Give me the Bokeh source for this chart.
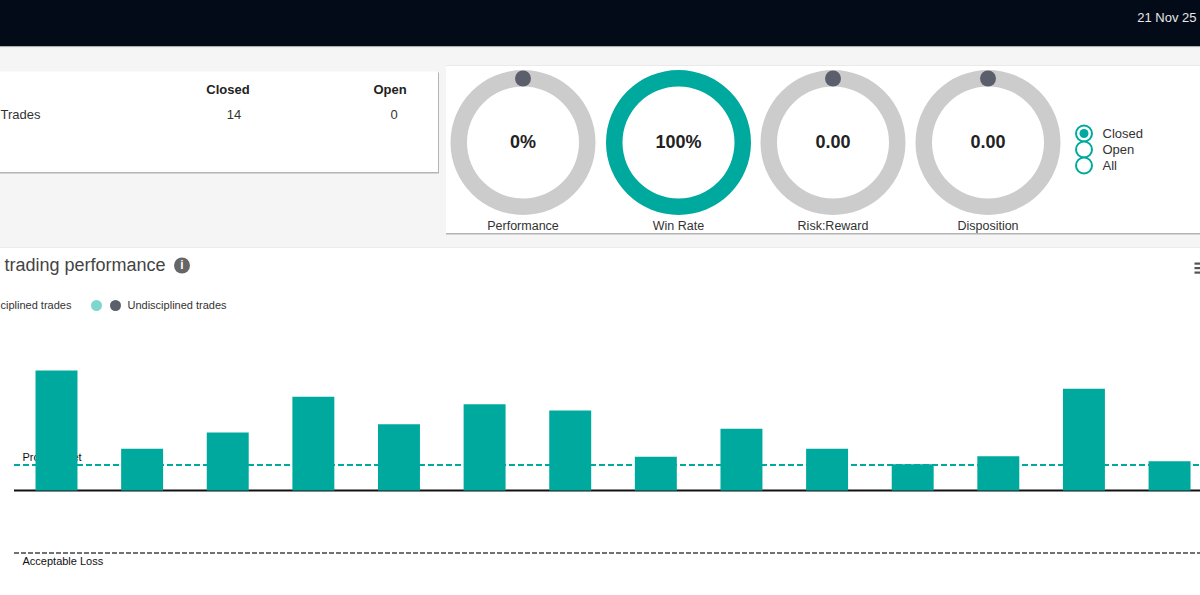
from bokeh.plotting import figure
from bokeh.models import Range1d
from bokeh.core.properties import value
from bokeh.embed import file_html
from bokeh.resources import INLINE

# ---- data ----
trades = list(range(14))
trade_values = [1.92, 0.67, 0.93, 1.50, 1.06, 1.38, 1.28, 0.54, 0.99, 0.67, 0.42, 0.55, 1.63, 0.47]
profit_target = 0.41
acceptable_loss = -1.0
gauge_labels = ["Performance", "Win Rate", "Risk:Reward", "Disposition"]
gauge_texts = ["0%", "100%", "0.00", "0.00"]
gauge_fill = [0, 100, 0, 0]
table_columns = ["Closed", "Open"]
table_counts = ["14", "0"]
radio_labels = ["Closed", "Open", "All"]
date_text = "21 Nov 25"
title_text = "trading performance"

TEAL = "#00a99d"
GREY = "#cccccc"
DOT = "#5a5f6b"
FONT = "Liberation Sans"

W, H = 1200, 595
p = figure(width=W + 1, height=H + 1, output_backend="svg", toolbar_location=None,
           x_range=Range1d(-1, W), y_range=Range1d(H, -1),
           x_axis_type=None, y_axis_type=None, min_border=0,
           outline_line_color=None, background_fill_color="white", border_fill_color="white",
           styles={"position": "absolute", "left": "-1px", "top": "-1px"})
p.grid.visible = False

# chart scales: bars are placed by trade number and value
PX0, PXSTEP = 56.0, 85.62
PY0, PYUNIT = 490.0, 62.5
p.extra_x_ranges["trade"] = Range1d((-1 - PX0) / PXSTEP, (W - PX0) / PXSTEP)
p.extra_y_ranges["pnl"] = Range1d((PY0 - H) / PYUNIT, (PY0 + 1) / PYUNIT)


def box(x0, x1, y0, y1, color):
    p.quad(left=[x0], right=[x1], top=[y0], bottom=[y1], fill_color=color, line_color=None)


def txt(x, y, s, size=13, color="#333333", style="normal", align="left"):
    p.text(x=[x], y=[y - 1], text=[s], text_font=value(FONT), text_font_size=f"{size}px",
           text_color=color, text_font_style=style, text_align=align, text_baseline="middle")


# page chrome
box(-5, W + 5, -5, 46, "#030b19")
box(-5, W + 5, 46, 47, "#d8d8d8")
box(-5, W + 5, 47, 246.5, "#f5f5f5")
box(-5, W + 5, 246.5, 247.5, "#ececec")

# cards
box(-5, 438.5, 72, 173, "#b4b4b4")
box(-5, 437.5, 71, 171.5, "#ffffff")
box(445.5, W + 5, 65, 234, "#b4b4b4")
box(445.5, W + 5, 65, 232.5, "#ffffff")

# top bar text
txt(1196, 17.5, date_text, 13, "#e8e8e8", align="right")

# table
txt(227.5, 89.5, table_columns[0], 13, "#222222", "bold", "center")
txt(389.5, 89.5, table_columns[1], 13, "#222222", "bold", "center")
txt(0, 114.5, "Trades", 13)
txt(233.5, 114.5, table_counts[0], 13, align="center")
txt(393.5, 114.5, table_counts[1], 13, align="center")

# gauges
gx = [522.5, 678, 832.5, 987.5]
gy = [142] * 4
p.annulus(x=gx, y=gy, inner_radius=56, outer_radius=72.5,
          fill_color=[TEAL if v >= 100 else GREY for v in gauge_fill], line_color=None)
p.scatter(x=[g for g, v in zip(gx, gauge_fill) if v < 100],
          y=[78] * sum(v < 100 for v in gauge_fill), size=16, fill_color=DOT, line_color=None)
for x, t, l in zip(gx, gauge_texts, gauge_labels):
    txt(x, 142, t, 18, "#222222", "bold", "center")
    txt(x, 226.5, l, 12.5, "#333333", "normal", "center")

# radios
ry = [133, 149, 165]
p.scatter(x=[1083.5] * 3, y=ry, size=16, fill_color="white", line_color=TEAL, line_width=2)
p.scatter(x=[1083.5], y=[133], size=9, fill_color=TEAL, line_color=None)
for y, l in zip(ry, radio_labels):
    txt(1102, y + 1, l, 13)

# chart heading
txt(4, 265.5, title_text, 18, "#444444")
p.scatter(x=[181.5], y=[265], size=16, fill_color="#666666", line_color=None)
txt(181.5, 265.5, "i", 12, "white", "bold", "center")
for y in (262, 266.5, 271):
    box(1194, W + 5, y, y + 2.2, "#555555")

# chart legend
txt(0, 305.5, "ciplined trades", 11)
p.scatter(x=[96], y=[305], size=11, fill_color="#7fd6ce", line_color=None)
p.scatter(x=[115], y=[305], size=11, fill_color=DOT, line_color=None)
txt(127, 305.5, "Undisciplined trades", 11)

# reference lines + labels
txt(22, 457.5, "Profit Target", 11, "#111111")
p.line(x=[13.5, W + 5], y=[profit_target] * 2, y_range_name="pnl", line_color=TEAL,
       line_width=2, line_dash=[6, 3])
p.line(x=[13.5, W + 5], y=[0, 0], y_range_name="pnl", line_color="#111111", line_width=2)
p.line(x=[13.5, W + 5], y=[acceptable_loss] * 2, y_range_name="pnl", line_color="#444444",
       line_width=1.5, line_dash=[5, 2])
txt(22, 561, "Acceptable Loss", 11, "#111111")

# bars
p.vbar(x=trades, top=trade_values, bottom=0, width=0.49, x_range_name="trade",
       y_range_name="pnl", fill_color=TEAL, line_color=None)

open("out.html", "w").write(file_html(p, INLINE))
